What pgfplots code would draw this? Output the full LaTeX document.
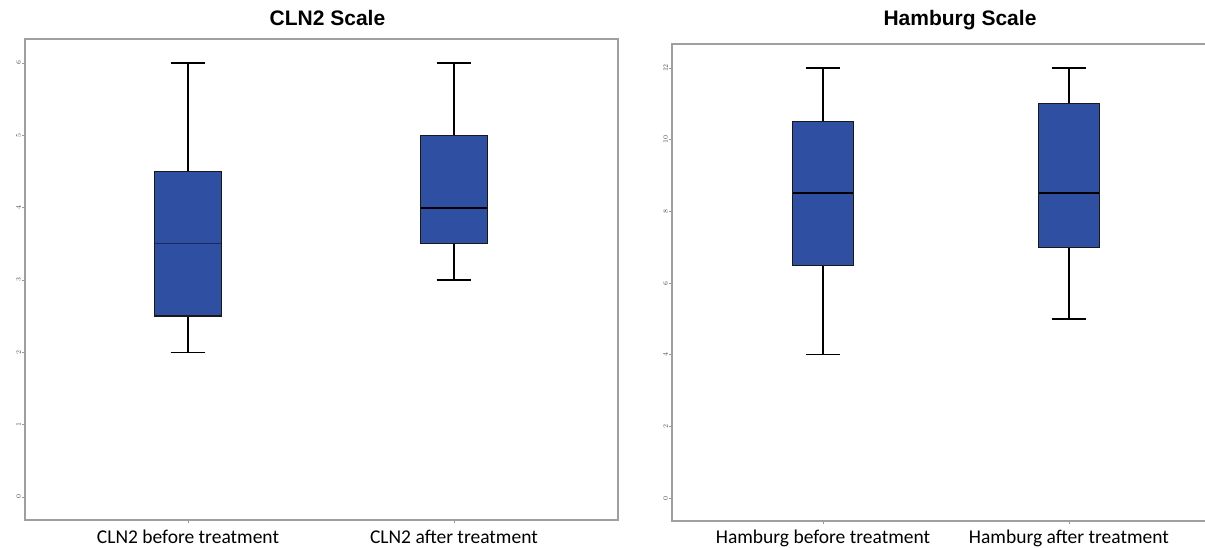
\documentclass[border=0pt]{standalone}
\usepackage{pgfplots}
\pgfplotsset{compat=1.18}
\usepgfplotslibrary{statistics}
\usepackage{fontspec}
\setmainfont{Liberation Sans}
\newfontfamily\carlito{Carlito}
\definecolor{boxblue}{RGB}{47,79,163}
\pgfplotsset{
  spssbox/.style={
    scale only axis,
    axis line style={draw=gray!75, line width=1.3pt},
    tick align=outside,
    major tick length=3pt,
    xtick pos=bottom, ytick pos=left,
    tick style={draw=gray!80, line width=0.6pt},
    xtick={1,2},
    boxplot/draw direction=y,
    title style={font=\fontsize{21}{21}\selectfont\bfseries, at={(0.5,1)}, anchor=base, inner sep=0pt},
    xticklabel style={font=\carlito\fontsize{19.5}{19.5}\selectfont, anchor=base, inner sep=0pt},
    yticklabel style={font=\fontsize{7.5}{7.5}\selectfont, text=gray!60!black, rotate=90, anchor=south, inner sep=1pt},
  },
  bx/.style={fill=boxblue, draw=black,
    boxplot/every box/.style={draw=black!90, line width=1.1pt, fill=boxblue},
    boxplot/every whisker/.style={draw=black, line width=1.3pt},
    boxplot/every median/.style={draw=black, line width=2pt}},
}
\begin{document}
\begin{tikzpicture}
\useasboundingbox (0pt,0pt) rectangle (1205pt,547pt);
\begin{axis}[spssbox,
  at={(25pt,27pt)}, anchor=south west,
  width=593pt, height=481pt,
  xmin=0.387, xmax=2.617, ymin=-0.32, ymax=6.33,
  ytick={0,1,2,3,4,5,6},
  xticklabels={CLN2 before treatment, CLN2 after treatment},
  xticklabel style={yshift=-20.5pt},
  title={CLN2 Scale}, title style={yshift=7pt, xshift=6pt},
]
\addplot+[bx, boxplot prepared={lower whisker=2, lower quartile=2.5, median=3.5, upper quartile=4.5, upper whisker=6, draw position=1, box extend=0.25, whisker extend=0.13}, boxplot/every median/.style={draw=boxblue!55!black, line width=1pt}] coordinates {};
\addplot+[bx, boxplot prepared={lower whisker=3, lower quartile=3.5, median=4, upper quartile=5, upper whisker=6, draw position=2, box extend=0.25, whisker extend=0.13}] coordinates {};
\end{axis}
\begin{axis}[spssbox,
  at={(672pt,26pt)}, anchor=south west,
  width=576pt, height=477pt,
  xmin=0.386, xmax=2.728, ymin=-0.64, ymax=12.67,
  ytick={0,2,4,6,8,10,12},
  xticklabels={Hamburg before treatment, Hamburg after treatment},
  xticklabel style={yshift=-19.5pt},
  title={Hamburg Scale}, title style={yshift=12pt},
]
\addplot+[bx, boxplot prepared={lower whisker=4, lower quartile=6.5, median=8.5, upper quartile=10.5, upper whisker=12, draw position=1, box extend=0.245, whisker extend=0.14}] coordinates {};
\addplot+[bx, boxplot prepared={lower whisker=5, lower quartile=7, median=8.5, upper quartile=11, upper whisker=12, draw position=2, box extend=0.245, whisker extend=0.14}] coordinates {};
\end{axis}
\end{tikzpicture}
\end{document}
